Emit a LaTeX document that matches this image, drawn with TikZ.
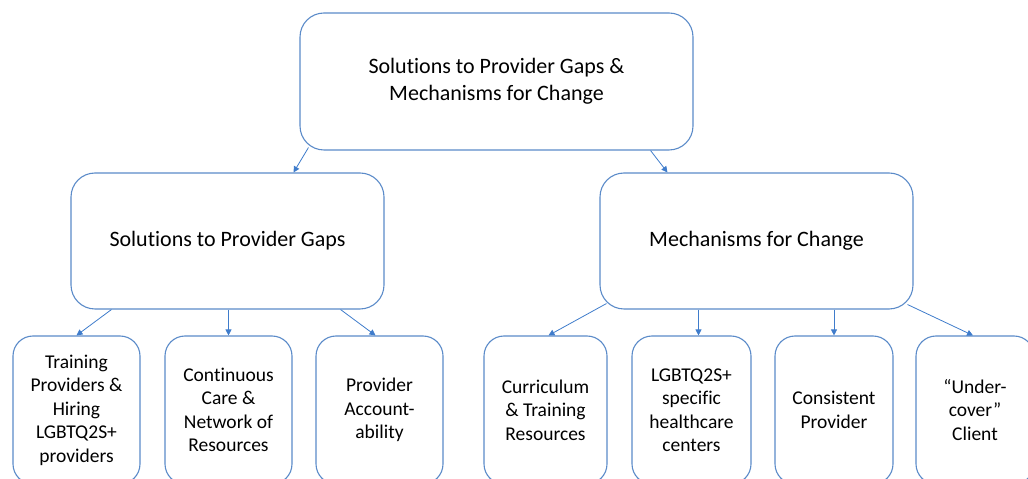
\documentclass[tikz,border=0pt]{standalone}
\usepackage{fontspec}
\setmainfont{Carlito}[Ligatures={NoCommon}]
\usetikzlibrary{arrows.meta}
\definecolor{boxblue}{HTML}{5B8BC9}
\definecolor{arrowblue}{HTML}{3F7CCB}
\tikzset{
  box/.style={draw=boxblue, line width=1.1pt, fill=white, align=center, text=black, inner sep=0pt},
  bigbox/.style={box, rounded corners=24pt, font=\fontsize{22}{27}\selectfont},
  leafbox/.style={box, rounded corners=20pt, minimum height=148pt, font=\fontsize{19.5}{23.5}\selectfont},
  link/.style={draw=arrowblue, line width=0.8pt, -{Triangle[length=6pt,width=6pt]}}
}
\begin{document}
\begin{tikzpicture}[x=1pt,y=1pt]
	    \useasboundingbox (0,0) rectangle (1028,479);
	    % root and the two branches
	    \node[bigbox, minimum width=393pt, minimum height=137pt] (root) at (496.5,397.5) {Solutions to Provider Gaps \&\\Mechanisms for Change};
	    \node[bigbox, minimum width=313pt, minimum height=136pt] (gaps) at (227.5,238) {Solutions to Provider Gaps};
	    \node[bigbox, minimum width=313pt, minimum height=136pt] (change) at (756.5,238) {Mechanisms for Change};
	    % leaves under the gaps branch
	    \node[leafbox, minimum width=127pt] (train) at (76.5,69) {Training\\Providers \&\\Hiring\\LGBTQ2S+\\providers};
	    \node[leafbox, minimum width=127pt] (care) at (228.5,69) {Continuous\\Care \&\\Network of\\Resources};
	    \node[leafbox, minimum width=127pt] (account) at (379.5,69) {Provider\\Account-\\ability};
	    % leaves under the change branch
	    \node[leafbox, minimum width=123pt] (curric) at (545.5,69) {Curriculum\\\& Training\\Resources};
	    \node[leafbox, minimum width=119pt] (centers) at (691.5,69) {LGBTQ2S+\\specific\\healthcare\\centers};
	    \node[leafbox, minimum width=118pt] (consist) at (834,69) {Consistent\\Provider};
	    \node[leafbox, minimum width=118pt] (client) at (975,69) {“Under-\\cover”\\Client};
	    % connectors
	    \draw[link] ([shift={(9,3)}]root.south west) -- ([xshift=-91pt]gaps.north east);
	    \draw[link] ([xshift=-43pt]root.south east) -- ([xshift=68pt]change.north west);
	    \draw[link] ([xshift=41pt]gaps.south west) -- (train.north);
	    \draw[link] (gaps.south -| care.north) -- (care.north);
	    \draw[link] ([xshift=-44pt]gaps.south east) -- ([xshift=-4pt]account.north);
	    \draw[link] ([shift={(7,6)}]change.south west) -- ([xshift=3pt]curric.north);
	    \draw[link] ([xshift=7pt]change.south -| centers.north) -- ([xshift=7pt]centers.north);
	    \draw[link] (change.south -| consist.north) -- (consist.north);
	    \draw[link] ([shift={(-6,5)}]change.south east) -- ([xshift=-2pt]client.north);
\end{tikzpicture}
\end{document}
